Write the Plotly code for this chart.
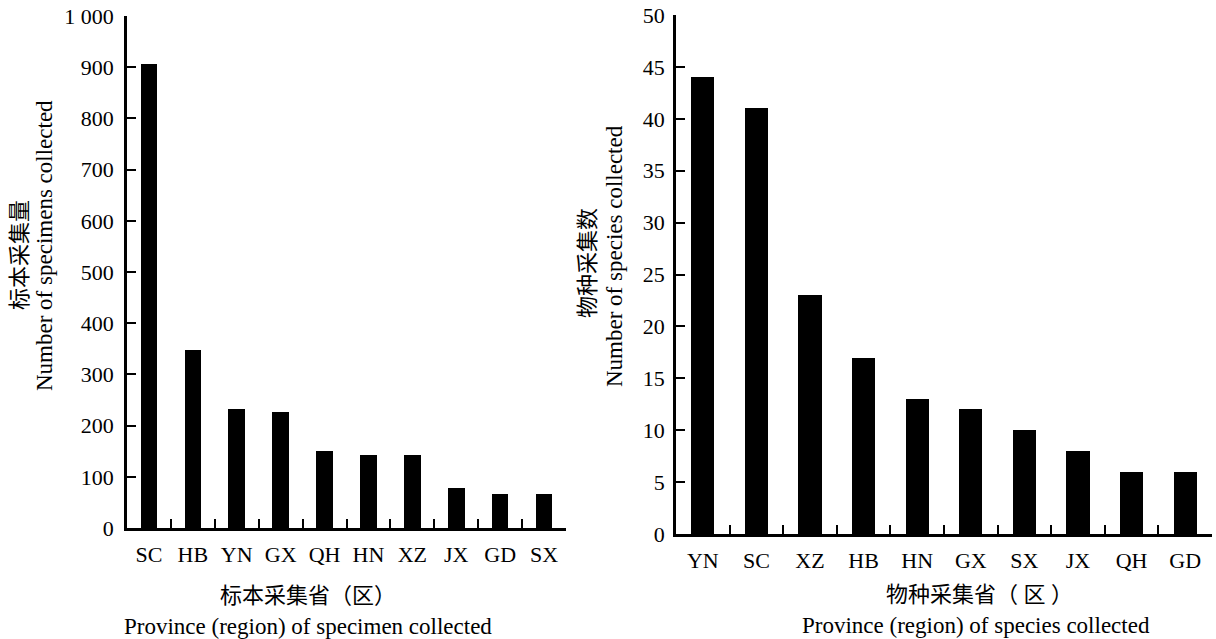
import plotly.graph_objects as go

# Left panel: specimens per province
spec_provinces = ["SC", "HB", "YN", "GX", "QH", "HN", "XZ", "JX", "GD", "SX"]
spec_counts = [907, 347, 232, 227, 151, 143, 143, 78, 66, 66]
spec_ticks = [0, 100, 200, 300, 400, 500, 600, 700, 800, 900, 1000]
spec_ticktext = ["0", "100", "200", "300", "400", "500", "600", "700", "800", "900", "1 000"]

# Right panel: species per province
sp_provinces = ["YN", "SC", "XZ", "HB", "HN", "GX", "SX", "JX", "QH", "GD"]
sp_counts = [44, 41, 23, 17, 13, 12, 10, 8, 6, 6]
sp_ticks = [0, 5, 10, 15, 20, 25, 30, 35, 40, 45, 50]

FONT = "Liberation Serif, Noto Sans CJK SC, serif"
W, H = 1216, 639

fig = go.Figure()
fig.add_trace(go.Bar(x=spec_provinces, y=spec_counts, width=0.38,
                     marker=dict(color="black", line=dict(width=0)),
                     xaxis="x", yaxis="y", showlegend=False))
fig.add_trace(go.Bar(x=sp_provinces, y=sp_counts, width=0.43,
                     marker=dict(color="black", line=dict(width=0)),
                     xaxis="x2", yaxis="y2", showlegend=False))

axis_common = dict(showline=True, linecolor="black", linewidth=2.5,
                   ticks="inside", ticklen=9, tickwidth=2, tickcolor="black",
                   showgrid=False, zeroline=False, automargin=False,
                   tickfont=dict(family=FONT, size=22, color="black"))

fig.update_layout(
    template="none",
    width=W, height=H,
    margin=dict(l=0, r=0, t=0, b=0),
    paper_bgcolor="white", plot_bgcolor="white",
    bargap=0,
    xaxis=dict(domain=[127 / W, 566 / W], anchor="y", type="category",
               tickson="boundaries", ticklabelstandoff=5, **axis_common),
    yaxis=dict(domain=[1 - 528 / H, 1 - 16 / H], anchor="x", range=[0, 1000],
               tickvals=spec_ticks, ticktext=spec_ticktext, ticklabelstandoff=6,
               **axis_common),
    xaxis2=dict(domain=[676 / W, 1212 / W], anchor="y2", type="category",
                tickson="boundaries", ticklabelstandoff=5, **axis_common),
    yaxis2=dict(domain=[1 - 534 / H, 1 - 15 / H], anchor="x2", range=[0, 50],
                tickvals=sp_ticks, ticklabelstandoff=4, **axis_common),
)

def ann(text, x, y, angle=0, size=22):
    fig.add_annotation(text=text, x=x / W, y=1 - y / H, xref="paper", yref="paper",
                       showarrow=False, textangle=angle, xanchor="center", yanchor="middle",
                       font=dict(family=FONT, size=size, color="black"))

# Left titles
ann("标本采集量", 19, 255, -90)
ann("Number of specimens collected", 44, 246, -90, 23)
ann("标本采集省（区）", 308, 595)
ann("Province (region) of specimen collected", 308, 626, 0, 23)
# Right titles
ann("物种采集数", 588, 263, -90)
ann("Number of species collected", 614, 256, -90, 23)
ann("物种采集省（ 区 ）", 979, 594)
ann("Province (region) of species collected", 976, 625, 0, 23)

fig.write_html("out.html")
